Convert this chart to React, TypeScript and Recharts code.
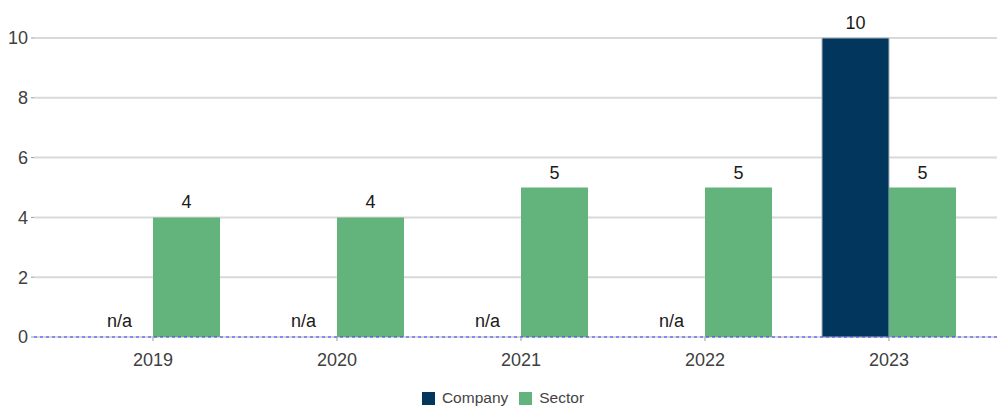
import { BarChart, Bar, XAxis, YAxis, CartesianGrid, Legend, LabelList, Rectangle } from "recharts";

const years = ["2019", "2020", "2021", "2022", "2023"];
const companyValues: (number | null)[] = [null, null, null, null, 10];
const sectorValues = [4, 4, 5, 5, 5];
const yTicks = [0, 2, 4, 6, 8, 10];

const COMPANY = "#03365c";
const SECTOR = "#62b47c";
const FONT = "'Liberation Sans', Arial, sans-serif";

// n/a values sit on the baseline with a label but no visible bar
const data = years.map((year, i) => ({
  year,
  company: companyValues[i] ?? 0,
  companyText: companyValues[i] === null ? "n/a" : String(companyValues[i]),
  companyMissing: companyValues[i] === null,
  sector: sectorValues[i],
}));

const renderLabel = (props: any) => {
  const { x, y, width, value } = props;
  return (
    <text
      x={Number(x) + Number(width) / 2}
      y={Number(y) - 9}
      textAnchor="middle"
      fontSize={18}
      fontFamily={FONT}
      fill="#1a1a1a"
    >
      {value}
    </text>
  );
};

const companyShape = (props: any) =>
  props.payload && props.payload.companyMissing ? <g /> : <Rectangle {...props} />;

function LegendContent() {
  const items = [
    { name: "Company", color: COMPANY },
    { name: "Sector", color: SECTOR },
  ];
  return (
    <div
      style={{
        height: 20,
        display: "flex",
        justifyContent: "center",
        alignItems: "center",
        gap: 11,
        fontFamily: FONT,
        fontSize: 15.5,
        color: "#444",
        paddingRight: 12,
      }}
    >
      {items.map((it) => (
        <span key={it.name} style={{ display: "flex", alignItems: "center" }}>
          <span
            style={{ width: 13, height: 13, background: it.color, display: "inline-block", marginRight: 7 }}
          />
          {it.name}
        </span>
      ))}
    </div>
  );
}

export default function App() {
  return (
    <div
      style={{
        position: "fixed",
        top: 0,
        left: 0,
        width: 997,
        height: 408,
        overflow: "hidden",
        background: "#fff",
      }}
    >
      <div style={{ position: "absolute", left: 9, top: 8 }}>
        <BarChart
          width={1000}
          height={400}
          data={data}
          margin={{ top: 30, right: 0, bottom: 0, left: 0 }}
          barCategoryGap={25}
          barGap={0}
        >
          <CartesianGrid vertical={false} stroke="#d9d9d9" strokeWidth={2} />
          <XAxis
            dataKey="year"
            height={51}
            padding={{ left: 27, right: 28 }}
            axisLine={{ stroke: "#3a3aff", strokeDasharray: "3 3" }}
            tickLine={{ stroke: "#999" }}
            tickSize={4}
            tickMargin={12}
            tick={{ fontSize: 18, fontFamily: FONT, fill: "#404040" }}
          />
          <YAxis
            width={25}
            domain={[0, 10]}
            ticks={yTicks}
            axisLine={false}
            tickLine={{ stroke: "#999" }}
            tickSize={3}
            tickMargin={3}
            tick={{ fontSize: 18, fontFamily: FONT, fill: "#404040" }}
          />
          <Legend verticalAlign="bottom" content={() => <LegendContent />} />
          <Bar
            dataKey="company"
            name="Company"
            fill={COMPANY}
            stroke="#a9b4bf"
            strokeWidth={1}
            minPointSize={1}
            shape={companyShape}
            isAnimationActive={false}
          >
            <LabelList dataKey="companyText" content={renderLabel} />
          </Bar>
          <Bar dataKey="sector" name="Sector" fill={SECTOR} isAnimationActive={false}>
            <LabelList dataKey="sector" content={renderLabel} />
          </Bar>
        </BarChart>
      </div>
    </div>
  );
}
